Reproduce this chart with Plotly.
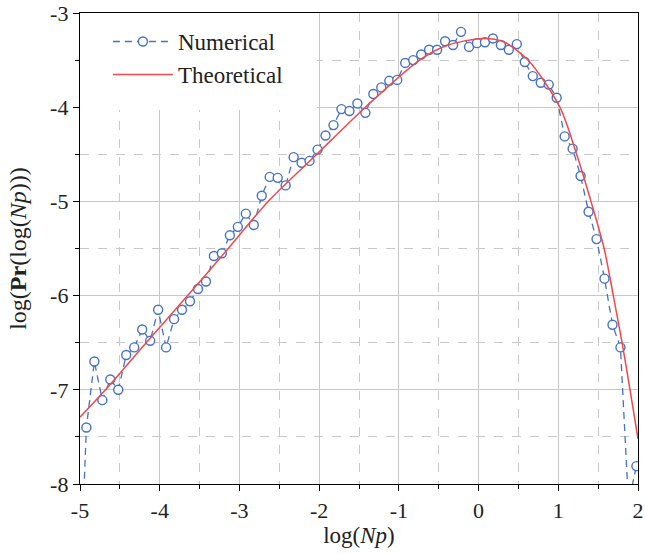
import plotly.graph_objects as go

# Numerical series
num_x = [-5.02, -4.92, -4.82, -4.72, -4.62, -4.52, -4.42, -4.32, -4.22, -4.12, -4.02,
         -3.92, -3.82, -3.72, -3.62, -3.52, -3.42, -3.32, -3.22, -3.12, -3.02,
         -2.92, -2.82, -2.72, -2.62, -2.52, -2.42, -2.32, -2.22, -2.12, -2.02,
         -1.92, -1.82, -1.72, -1.62, -1.52, -1.42, -1.32, -1.22, -1.12, -1.02,
         -0.92, -0.82, -0.72, -0.62, -0.52, -0.42, -0.32, -0.22, -0.12, -0.02,
         0.08, 0.18, 0.28, 0.38, 0.48, 0.58, 0.68, 0.78, 0.88, 0.98,
         1.08, 1.18, 1.28, 1.38, 1.48, 1.58, 1.68, 1.78, 1.88, 1.98]
num_y = [-9.6, -7.40, -6.70, -7.11, -6.89, -7.00, -6.63, -6.55, -6.36, -6.48, -6.15,
         -6.55, -6.25, -6.15, -6.06, -5.93, -5.85, -5.58, -5.55, -5.36, -5.27,
         -5.13, -5.25, -4.94, -4.74, -4.75, -4.83, -4.53, -4.59, -4.57, -4.45,
         -4.30, -4.19, -4.02, -4.04, -3.96, -4.06, -3.86, -3.79, -3.72, -3.71,
         -3.53, -3.50, -3.44, -3.39, -3.39, -3.30, -3.34, -3.20, -3.36, -3.32,
         -3.31, -3.27, -3.34, -3.39, -3.33, -3.52, -3.67, -3.74, -3.76, -3.90,
         -4.31, -4.44, -4.73, -5.11, -5.40, -5.82, -6.31, -6.55, -8.20, -7.81]

# Theoretical curve
th_x = [-5.0, -4.68, -4.17, -3.65, -3.14, -2.64, -2.03, -1.42, -0.74, -0.40,
        0.05, 0.30, 0.62, 1.02, 1.23, 1.41, 1.575, 1.69, 1.80, 1.90, 2.0]
th_y = [-7.29, -7.0, -6.5, -6.0, -5.5, -5.0, -4.5, -4.0, -3.5, -3.345,
        -3.27, -3.30, -3.5, -4.0, -4.5, -5.0, -5.5, -6.0, -6.5, -7.0, -7.52]

x_ticks = [-5, -4, -3, -2, -1, 0, 1, 2]
y_ticks = [-8, -7, -6, -5, -4, -3]

BLUE = "#4472C4"
RED = "#F0484B"
FONT = "Liberation Serif"
TXT = "#222222"

fig = go.Figure()
fig.add_trace(go.Scatter(
    x=num_x, y=num_y, mode="lines+markers", name="Numerical",
    line=dict(color=BLUE, width=1.3, dash="7px,5px"),
    marker=dict(symbol="circle", size=9, color="white",
                line=dict(color=BLUE, width=1.4)),
    cliponaxis=True,
))
fig.add_trace(go.Scatter(
    x=th_x, y=th_y, mode="lines", name="Theoretical",
    line=dict(color=RED, width=1.5, shape="spline", smoothing=0.8),
))

# white legend background box
fig.add_shape(type="rect", xref="x", yref="y", x0=-5, x1=-2.03, y0=-4.03, y1=-3,
              fillcolor="white", line=dict(width=0), layer="between")

axis_common = dict(
    showline=True, linecolor="black", linewidth=1.3, mirror=True,
    ticks="outside", ticklen=6, tickwidth=1.2, tickcolor="black",
    showgrid=True, gridcolor="#c8c8c8", gridwidth=1,
    zeroline=False, automargin=False, ticklabeloverflow="allow",
    tickfont=dict(family=FONT, size=22, color=TXT),
)

fig.update_xaxes(
    range=[-5, 2], tickvals=x_ticks, ticktext=[str(v) for v in x_ticks],
    minor=dict(dtick=0.5, tick0=-5, showgrid=True, gridcolor="#c8c8c8",
               griddash="dash", ticks="outside", ticklen=4, tickcolor="black"),
    title=dict(text="log(<i>Np</i>)", font=dict(family=FONT, size=23, color=TXT),
               standoff=4),
    **axis_common,
)
fig.update_yaxes(
    range=[-8, -3], tickvals=y_ticks, ticktext=[str(v) for v in y_ticks],
    minor=dict(dtick=0.5, tick0=-8, showgrid=True, gridcolor="#c8c8c8",
               griddash="dash", ticks="outside", ticklen=4, tickcolor="black"),
    title=dict(text="log(<b>Pr</b>(log(<i>Np</i>)))",
               font=dict(family=FONT, size=24, color=TXT), standoff=16),
    **axis_common,
)

fig.update_layout(
    width=645, height=554,
    margin=dict(l=80, r=7, t=13, b=70),
    font=dict(family=FONT, color=TXT),
    plot_bgcolor="white", paper_bgcolor="white",
    showlegend=True,
    legend=dict(x=0.05, y=0.985, xanchor="left", yanchor="top",
                bgcolor="rgba(0,0,0,0)", borderwidth=0,
                font=dict(family=FONT, size=23, color=TXT),
                itemwidth=60, tracegroupgap=0),
)

fig.write_html("out.html",
               config={"displayModeBar": False},
               post_script="document.body.style.margin='0';document.body.style.padding='0';")
